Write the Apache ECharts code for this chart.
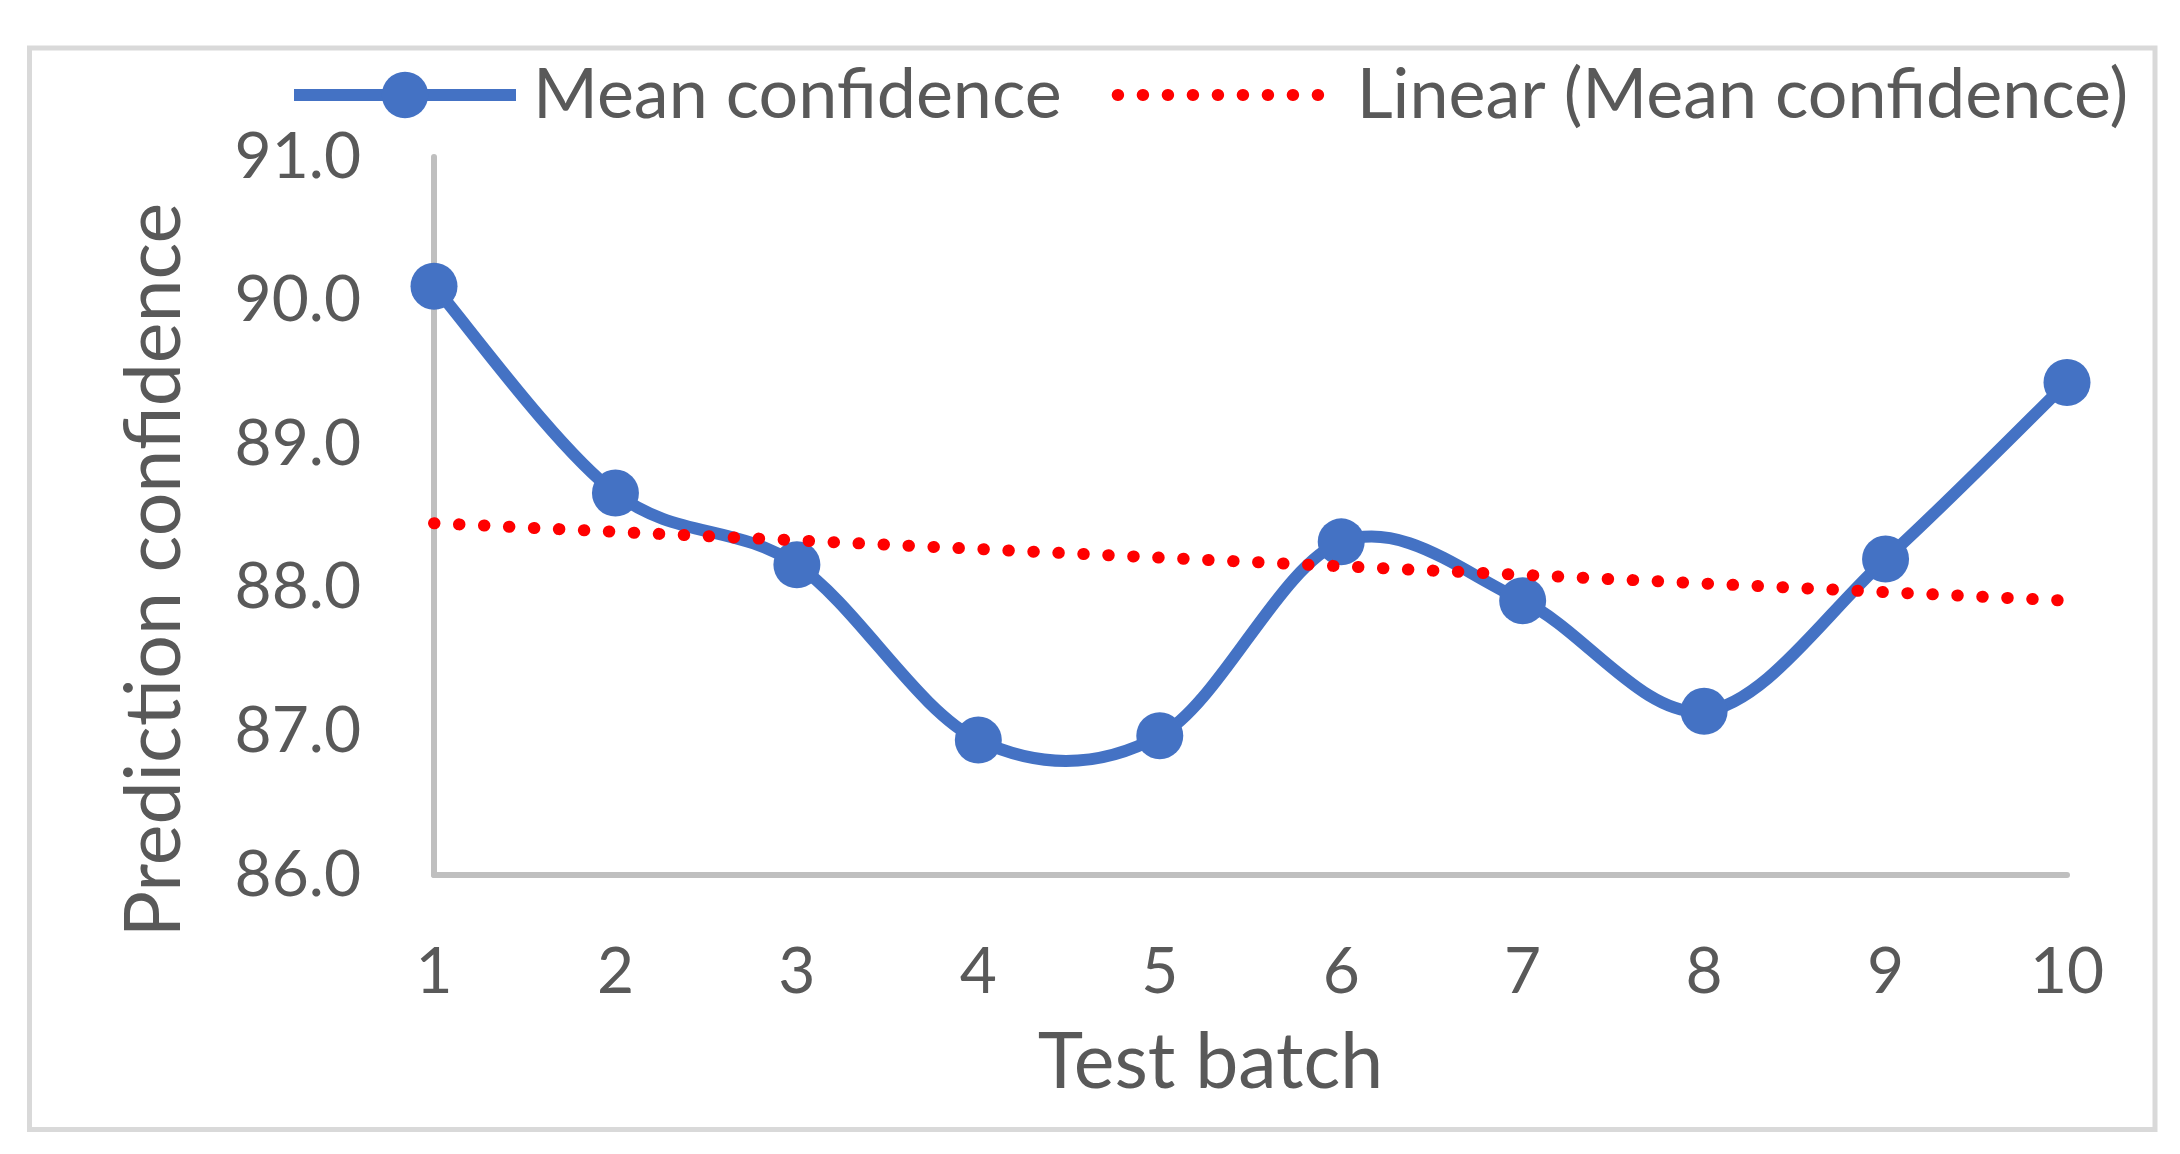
<!DOCTYPE html>
<html>
<head>
<meta charset="utf-8">
<script src="https://cdn.jsdelivr.net/npm/echarts@6/dist/echarts.min.js"></script>
<style>
  html, body { margin: 0; padding: 0; background: #ffffff; }
  #chart { width: 2180px; height: 1154px; }
</style>
</head>
<body>
<div id="chart"></div>
<script>
// ---- data ----
const categories = ['1', '2', '3', '4', '5', '6', '7', '8', '9', '10'];
const meanConfidence = [90.10, 88.66, 88.16, 86.94, 86.97, 88.32, 87.91, 87.14, 88.20, 89.43];
// linear trend line endpoints (at batch 1 and batch 10)
const trendStart = 88.45;
const trendEnd = 87.91;
const yTicks = { min: 86, max: 91, interval: 1 };

const trendData = categories.map((c, i) =>
  i === 0 ? trendStart : (i === categories.length - 1 ? trendEnd : null));
const curveData = meanConfidence.map((v, i) => [i, v]);

const FONT = 'Lato';
const TXT = '#595959';
const BLUE = '#4472C4';
const RED = '#FF0000';
const DOTS = [0.5, 24.5];

// Excel-like smoothed line (Catmull-Rom through the points), positioned via api.coord
function renderCurve(params, api) {
  const n = meanConfidence.length;
  const i = params.dataIndexInside;
  if (i >= n - 1) return null;
  const P = k => {
    k = Math.max(0, Math.min(n - 1, k));
    return api.coord([api.value(0, k), api.value(1, k)]);
  };
  const p0 = P(i - 1), p1 = P(i), p2 = P(i + 1), p3 = P(i + 2);
  return {
    type: 'bezierCurve',
    shape: {
      x1: p1[0], y1: p1[1], x2: p2[0], y2: p2[1],
      cpx1: p1[0] + (p2[0] - p0[0]) / 6, cpy1: p1[1] + (p2[1] - p0[1]) / 6,
      cpx2: p2[0] - (p3[0] - p1[0]) / 6, cpy2: p2[1] - (p3[1] - p1[1]) / 6
    },
    style: { stroke: BLUE, lineWidth: 12, fill: null, lineCap: 'round' },
    silent: true
  };
}

const chart = echarts.init(document.getElementById('chart'), null, { renderer: 'canvas' });
chart.setOption({
  animation: false,
  backgroundColor: '#ffffff',
  graphic: [{
    type: 'rect',
    shape: { x: 29.5, y: 48, width: 2125.5, height: 1081.5 },
    style: { fill: 'none', stroke: '#D9D9D9', lineWidth: 5 },
    silent: true, z: -10
  }],
  grid: { left: 434, right: 113, top: 157, bottom: 279, containLabel: false },
  legend: {
    left: 283, top: 55,
    itemWidth: 222, itemHeight: 58, itemGap: 50,
    textStyle: { fontFamily: FONT, fontSize: 70, color: TXT, padding: [0, 0, 0, 12] },
    data: [
      { name: 'Mean confidence',
        itemStyle: { color: BLUE },
        lineStyle: { color: BLUE, width: 12, opacity: 1, type: 'solid' } },
      { name: 'Linear (Mean confidence)',
        itemStyle: { color: 'rgba(0,0,0,0)', borderWidth: 0 },
        lineStyle: { color: RED, width: 12, opacity: 1, type: DOTS, cap: 'round' } }
    ]
  },
  xAxis: {
    type: 'category',
    data: categories,
    boundaryGap: false,
    axisTick: { show: false },
    axisLine: { show: true, lineStyle: { color: '#BFBFBF', width: 6 } },
    axisLabel: { fontFamily: FONT, fontSize: 64, color: TXT, margin: 65 },
    splitLine: { show: false },
    name: 'Test batch',
    nameLocation: 'middle',
    nameGap: 150,
    nameTextStyle: { fontFamily: FONT, fontSize: 77, color: TXT, padding: [0, 80, 0, 0] }
  },
  yAxis: {
    type: 'value',
    min: yTicks.min, max: yTicks.max, interval: yTicks.interval,
    axisTick: { show: false },
    axisLine: { show: true, lineStyle: { color: '#BFBFBF', width: 6 } },
    splitLine: { show: false },
    axisLabel: {
      fontFamily: FONT, fontSize: 64, color: TXT, margin: 73,
      formatter: v => v.toFixed(1)
    },
    name: 'Prediction confidence',
    nameLocation: 'middle',
    nameGap: 240,
    nameTextStyle: { fontFamily: FONT, fontSize: 77, color: TXT, padding: [0, 108, 0, 0] }
  },
  series: [
    {
      name: 'Mean confidence curve',
      type: 'custom',
      data: curveData,
      encode: { x: 0, y: 1 },
      renderItem: renderCurve,
      z: 2
    },
    {
      name: 'Mean confidence',
      type: 'line',
      data: meanConfidence,
      symbol: 'circle',
      symbolSize: 47,
      itemStyle: { color: BLUE },
      lineStyle: { color: BLUE, width: 0, opacity: 0 },
      z: 3
    },
    {
      name: 'Linear (Mean confidence)',
      type: 'line',
      data: trendData,
      connectNulls: true,
      symbol: 'none',
      itemStyle: { color: RED },
      lineStyle: { color: RED, width: 12, type: DOTS, cap: 'round' },
      z: 4
    }
  ]
});
</script>
</body>
</html>
